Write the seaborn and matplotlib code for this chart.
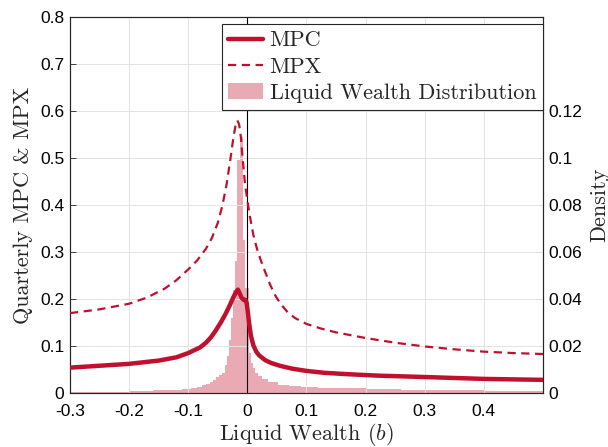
import numpy as np
import pandas as pd
import matplotlib
matplotlib.use("Agg")
import matplotlib.pyplot as plt
import seaborn as sns
from matplotlib.lines import Line2D
from matplotlib.patches import Patch

# ---------------- data ----------------
mpc_x = [-0.3, -0.25, -0.2, -0.15, -0.12, -0.1, -0.08, -0.07, -0.062, -0.054,
         -0.045, -0.037, -0.03, -0.024, -0.019, -0.016, -0.013, -0.01, -0.006,
         -0.003, -0.001, 0.001, 0.003, 0.006, 0.01, 0.015, 0.02, 0.03, 0.04,
         0.055, 0.075, 0.1, 0.13, 0.17, 0.22, 0.3, 0.4, 0.5]
mpc_y = [0.054, 0.058, 0.062, 0.069, 0.076, 0.085, 0.097, 0.107, 0.118, 0.132,
         0.150, 0.168, 0.186, 0.203, 0.215, 0.220, 0.212, 0.203, 0.198,
         0.198, 0.190, 0.170, 0.148, 0.122, 0.102, 0.088, 0.080, 0.070, 0.064,
         0.058, 0.052, 0.047, 0.043, 0.040, 0.037, 0.034, 0.030, 0.028]

mpx_x = [-0.3, -0.25, -0.2, -0.17, -0.14, -0.12, -0.1, -0.085, -0.07, -0.06,
         -0.05, -0.042, -0.035, -0.029, -0.024, -0.02, -0.017, -0.014, -0.011,
         -0.008, -0.004, 0.0, 0.004, 0.01, 0.016, 0.022, 0.03, 0.038, 0.046,
         0.056, 0.068, 0.08, 0.1, 0.125, 0.15, 0.2, 0.25, 0.3, 0.35, 0.4,
         0.45, 0.5]
mpx_y = [0.170, 0.178, 0.190, 0.203, 0.222, 0.240, 0.263, 0.282, 0.307, 0.330,
         0.362, 0.400, 0.445, 0.495, 0.540, 0.570, 0.580, 0.572, 0.545,
         0.500, 0.445, 0.410, 0.378, 0.337, 0.308, 0.285, 0.258, 0.232, 0.210,
         0.190, 0.172, 0.160, 0.147, 0.137, 0.129, 0.117, 0.107, 0.099, 0.093,
         0.088, 0.085, 0.083]

hist_edges = [-0.3, -0.25, -0.2, -0.16, -0.13, -0.11, -0.095, -0.085, -0.077,
              -0.07, -0.064, -0.058, -0.053, -0.048, -0.0426, -0.038, -0.0347,
              -0.0313, -0.0279, -0.0246, -0.0212, -0.0175, -0.0126, -0.0077,
              -0.004, 0.0024, 0.0057, 0.0096, 0.0135, 0.018, 0.0247, 0.035,
              0.052, 0.07, 0.09, 0.12, 0.16, 0.2, 0.26, 0.32, 0.4, 0.5]
hist_density = [0.0005, 0.0006, 0.0008, 0.0011, 0.0014, 0.0018, 0.0022, 0.0027,
                0.0033, 0.0039, 0.0047, 0.0055, 0.0066, 0.0075, 0.0086, 0.012,
                0.0158, 0.0227, 0.032, 0.044, 0.056, 0.099, 0.109, 0.065,
                0.0445, 0.017, 0.0128, 0.0107, 0.0086, 0.0072, 0.0058, 0.0046,
                0.0036, 0.0031, 0.0027, 0.0023, 0.0020, 0.0017, 0.0014, 0.0012,
                0.0010]

x_ticks = [-0.3, -0.2, -0.1, 0, 0.1, 0.2, 0.3, 0.4]
x_ticklabels = ["-0.3", "-0.2", "-0.1", "0", "0.1", "0.2", "0.3", "0.4"]
yl_ticks = [0, 0.1, 0.2, 0.3, 0.4, 0.5, 0.6, 0.7, 0.8]
yl_ticklabels = ["0", "0.1", "0.2", "0.3", "0.4", "0.5", "0.6", "0.7", "0.8"]
yr_ticks = [0, 0.02, 0.04, 0.06, 0.08, 0.1, 0.12]
yr_ticklabels = ["0", "0.02", "0.04", "0.06", "0.08", "0.1", "0.12"]

# ---------------- style ----------------
sns.set_theme(style="white")
plt.rcParams["font.family"] = ["Liberation Sans", "DejaVu Sans"]
plt.rcParams["mathtext.fontset"] = "cm"

RED = "#C0102E"
PINK = "#E9AAB4"
SPINE = "#262626"
SERIF = ["cmr10", "DejaVu Serif"]
LBL = 16

fig = plt.figure(figsize=(6.08, 4.47), dpi=100)
ax = fig.add_axes([0.1151, 0.1208, 0.778, 0.841])
ax2 = ax.twinx()

# histogram on right axis
centers = [(a + b) / 2 for a, b in zip(hist_edges[:-1], hist_edges[1:])]
hdf = pd.DataFrame({"b": centers, "w": hist_density})
sns.histplot(data=hdf, x="b", weights="w", bins=hist_edges, stat="count",
             element="step", fill=True, color=PINK, alpha=1, linewidth=0,
             ax=ax2)
ax2.set_ylim(0, 0.16)
ax2.set_yticks(yr_ticks)
ax2.set_yticklabels(yr_ticklabels)
ax2.set_ylabel("Density", family=SERIF, fontsize=LBL, labelpad=5)

# lines on left axis (on top)
ax.set_zorder(ax2.get_zorder() + 1)
ax.patch.set_visible(False)

ax.axvline(0, color="black", lw=0.8, zorder=1)
sns.lineplot(x=mpx_x, y=mpx_y, ax=ax, color=RED, lw=1.6,
             linestyle=(0, (3.7, 2.5)), zorder=3)
sns.lineplot(x=mpc_x, y=mpc_y, ax=ax, color=RED, lw=3.2, zorder=4)

ax.set_xlim(-0.3, 0.5)
ax.set_ylim(0, 0.8)
ax.set_xticks(x_ticks)
ax.set_xticklabels(x_ticklabels)
ax.set_yticks(yl_ticks)
ax.set_yticklabels(yl_ticklabels)
ax.grid(True, color="#E3E3E3", lw=0.7)
ax.set_axisbelow(True)
ax.set_xlabel(r"Liquid Wealth ($b$)", family=SERIF, fontsize=LBL, labelpad=1)
ax.set_ylabel("Quarterly MPC & MPX", family=SERIF, fontsize=LBL, labelpad=5)

for a in (ax, ax2):
    for s in a.spines.values():
        s.set_color(SPINE)
        s.set_linewidth(0.8)
    a.tick_params(direction="in", length=4, width=0.6, colors=SPINE,
                  labelsize=12.5, labelcolor="black", pad=4)
ax.tick_params(axis="x", pad=8)
ax.tick_params(axis="y", right=False)
ax2.tick_params(axis="y", left=False)

handles = [Line2D([], [], color=RED, lw=3.2),
           Line2D([], [], color=RED, lw=1.6, linestyle=(0, (3.7, 2.5))),
           Patch(facecolor=PINK, edgecolor="none")]
labels = ["MPC", "MPX", "Liquid Wealth Distribution"]
leg = ax.legend(handles, labels, loc="upper left", bbox_to_anchor=(0.321, 0.981),
                borderaxespad=0, fancybox=False, framealpha=1,
                edgecolor=SPINE, prop={"family": SERIF, "size": LBL},
                handlelength=1.55, handletextpad=0.3, labelspacing=0.3,
                borderpad=0.3)
leg.get_frame().set_linewidth(0.8)

fig.savefig("out.png", dpi=100)
